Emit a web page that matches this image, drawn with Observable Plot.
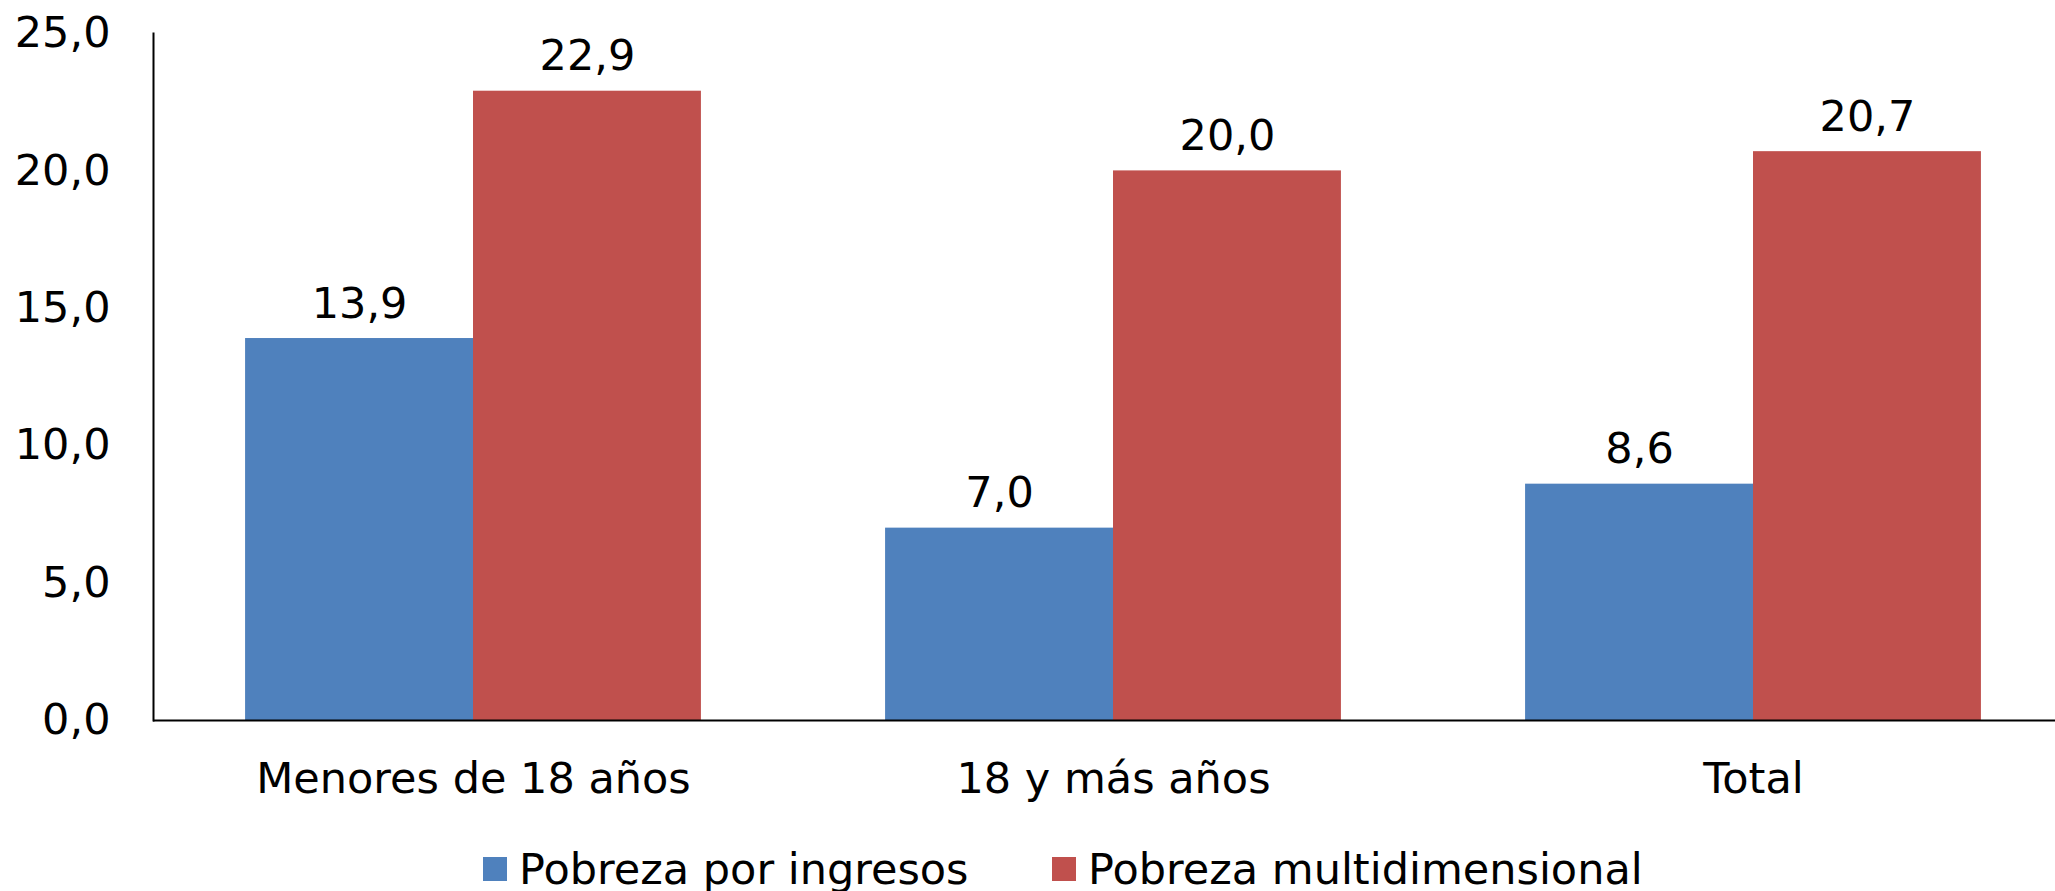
<!DOCTYPE html>
<html>
<head>
<meta charset="utf-8">
<script src="https://cdn.jsdelivr.net/npm/d3@7"></script>
<script src="https://cdn.jsdelivr.net/npm/@observablehq/plot@0.6"></script>
<style>
  html, body { margin: 0; padding: 0; background: #fff; overflow: hidden; }
  #chart svg { display: block; }
  #legend { position: relative; height: 61px; font-family: "DejaVu Sans", Verdana, sans-serif; font-size: 43px; color: #000; }
  .item { position: absolute; top: 14px; display: flex; align-items: center; white-space: nowrap; line-height: 50px; }
  .sw { width: 24px; height: 24px; margin-right: 12px; }
</style>
</head>
<body>
<div id="chart"></div>
<div id="legend"></div>
<script>
const categories = ["Menores de 18 años", "18 y más años", "Total"];
const series = ["Pobreza por ingresos", "Pobreza multidimensional"];
const ingresos = [13.9, 7.0, 8.6];
const multidimensional = [22.9, 20.0, 20.7];
const colors = ["#4F81BD", "#C0504D"];
const yTicks = [0, 5, 10, 15, 20, 25];

const fmt = v => v.toFixed(1).replace(".", ",");

const data = categories.flatMap((c, i) => [
  {cat: c, series: series[0], value: ingresos[i]},
  {cat: c, series: series[1], value: multidimensional[i]}
]);

const chart = Plot.plot({
  width: 2055,
  height: 830,
  marginLeft: 153,
  marginRight: -18,
  marginTop: 33,
  marginBottom: 110,
  style: {fontFamily: "DejaVu Sans, Verdana, sans-serif", fontSize: "43px", color: "#000", background: "#fff"},
  fx: {domain: categories, padding: 0, label: null, axis: "bottom", tickSize: 0, tickPadding: 42},
  x: {domain: series, axis: null, paddingInner: 0, paddingOuter: 0.404, round: false},
  y: {domain: [0, 25], ticks: yTicks, tickFormat: fmt, tickSize: 0, tickPadding: 43, label: null},
  color: {domain: series, range: colors},
  marks: [
    Plot.barY(data, {fx: "cat", x: "series", y: "value", fill: "series"}),
    Plot.text(data, {fx: "cat", x: "series", y: "value", text: d => fmt(d.value), lineAnchor: "bottom", dy: -21, fill: "#000"}),
    Plot.frame({anchor: "left", facetAnchor: "left", stroke: "#000", strokeWidth: 2}),
    Plot.ruleY([0], {stroke: "#000", strokeWidth: 2})
  ]
});
document.getElementById("chart").appendChild(chart);

const legend = document.getElementById("legend");
const lefts = [483, 1052];
series.forEach((s, i) => {
  const item = document.createElement("div");
  item.className = "item";
  item.style.left = lefts[i] + "px";
  const sw = document.createElement("div");
  sw.className = "sw";
  sw.style.background = colors[i];
  const t = document.createElement("span");
  t.textContent = s;
  item.appendChild(sw);
  item.appendChild(t);
  legend.appendChild(item);
});
</script>
</body>
</html>
